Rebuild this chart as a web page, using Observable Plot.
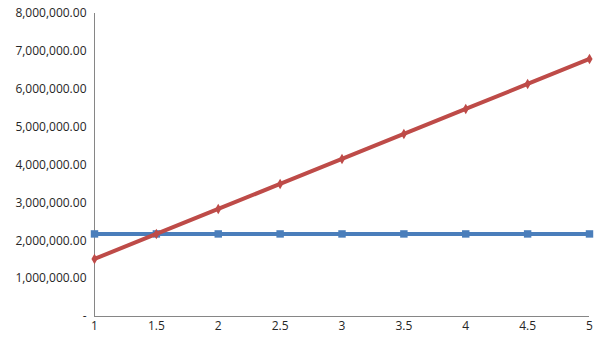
<!DOCTYPE html>
<html>
<head>
<meta charset="utf-8">
<script src="https://cdn.jsdelivr.net/npm/d3@7"></script>
<script src="https://cdn.jsdelivr.net/npm/@observablehq/plot@0.6"></script>
<style>
  html, body { margin: 0; padding: 0; background: #fff; }
  #chart { width: 605px; height: 340px; }
</style>
</head>
<body>
<div id="chart"></div>
<script>
const xValues = [1, 1.5, 2, 2.5, 3, 3.5, 4, 4.5, 5];
const blueSeries = [2180000, 2180000, 2180000, 2180000, 2180000, 2180000, 2180000, 2180000, 2180000];
const redSeries = [1520000, 2180000, 2840000, 3500000, 4160000, 4820000, 5480000, 6140000, 6800000];
const xTicks = [1, 1.5, 2, 2.5, 3, 3.5, 4, 4.5, 5];
const yTicks = [0, 1000000, 2000000, 3000000, 4000000, 5000000, 6000000, 7000000, 8000000];

const blueData = xValues.map((x, i) => ({x, y: blueSeries[i]}));
const redData = xValues.map((x, i) => ({x, y: redSeries[i]}));
const fmt = d3.format(",.2f");

const chart = Plot.plot({
  width: 605,
  height: 340,
  marginLeft: 94,
  marginRight: 16,
  marginTop: 13,
  marginBottom: 24,
  style: {fontFamily: "'Open Sans', sans-serif", fontSize: "12px", color: "#262626", background: "#fff"},
  x: {domain: [1, 5], ticks: xTicks, tickFormat: d => String(d), tickSize: 0, tickPadding: 5, label: null},
  y: {domain: [0, 8000000], ticks: yTicks, tickFormat: d => d === 0 ? "-" : fmt(d), tickSize: 0, tickPadding: 8, label: null},
  marks: [
    Plot.ruleY([0], {stroke: "#868686", strokeWidth: 1}),
    Plot.ruleX([1], {stroke: "#868686", strokeWidth: 1}),
    Plot.line(blueData, {x: "x", y: "y", stroke: "#4A7EBB", strokeWidth: 4}),
    Plot.dot(blueData, {x: "x", y: "y", symbol: "square", r: 4.2, fill: "#4A7EBB", stroke: "none"}),
    Plot.line(redData, {x: "x", y: "y", stroke: "#BE4B48", strokeWidth: 4}),
    Plot.dot(redData, {x: "x", y: "y", symbol: "diamond", r: 3.2, fill: "#BE4B48", stroke: "none"})
  ]
});
document.getElementById("chart").appendChild(chart);
</script>
</body>
</html>
